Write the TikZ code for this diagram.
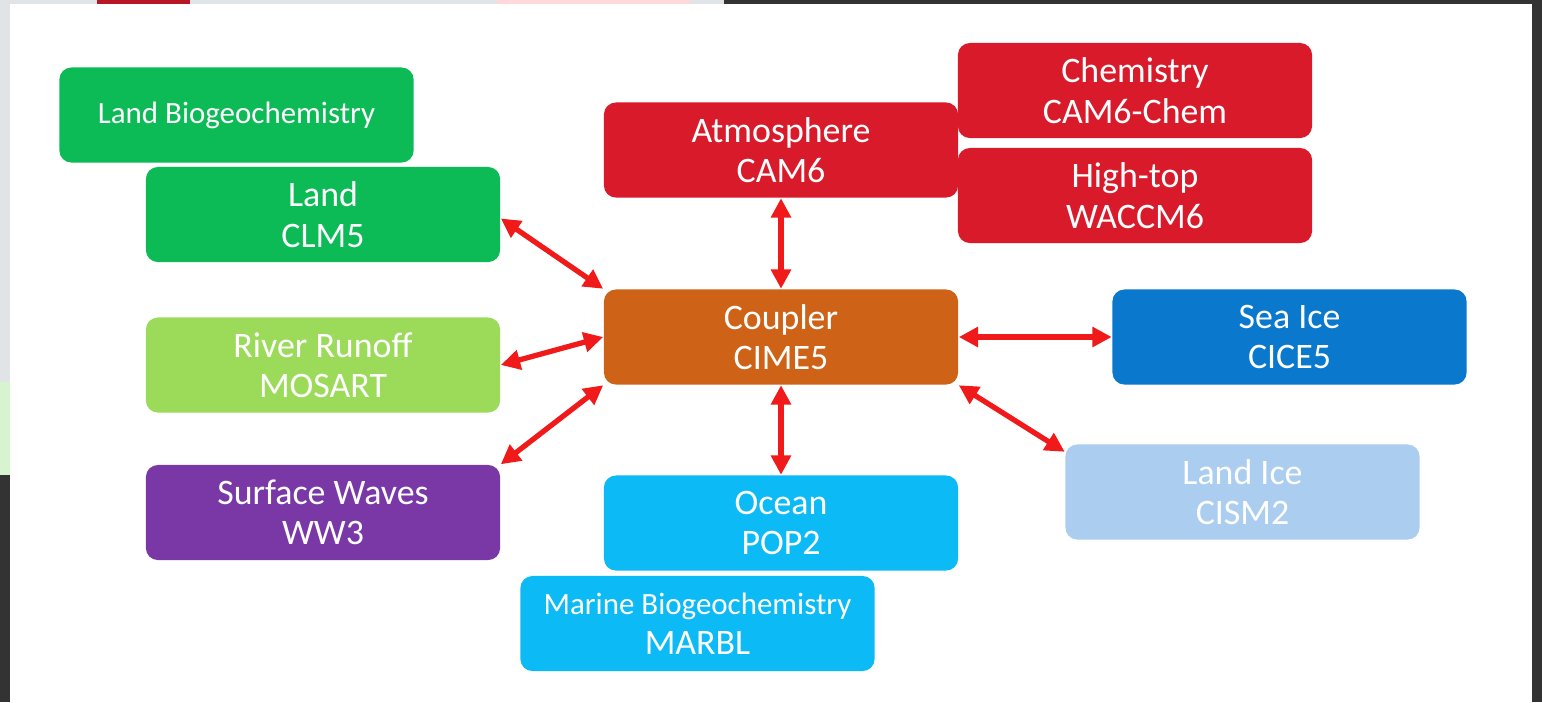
\documentclass[tikz,border=0pt]{standalone}
\usepackage{fontspec}
\setmainfont{Carlito}
\usetikzlibrary{positioning,arrows.meta}

\definecolor{framegray}{RGB}{51,51,51}
\definecolor{stripgray}{RGB}{225,228,231}
\definecolor{stripgreen}{RGB}{214,244,208}
\definecolor{landgreen}{RGB}{12,186,86}
\definecolor{rivergreen}{RGB}{156,218,90}
\definecolor{wavepurple}{RGB}{122,56,166}
\definecolor{atmred}{RGB}{217,26,42}
\definecolor{cplorange}{RGB}{206,99,24}
\definecolor{iceblue}{RGB}{10,120,204}
\definecolor{landiceblue}{RGB}{170,205,240}
\definecolor{oceancyan}{RGB}{12,187,245}
\definecolor{arrowred}{RGB}{240,26,26}

\begin{document}
\begin{tikzpicture}[x=0.01cm, y=-0.01cm, font=\fontsize{10.2}{11.5}\selectfont]
    \tikzset{
      comp/.style = {rectangle, rounded corners=0.12cm, minimum width=3.54cm, minimum height=0.95cm, align=center, text=white, inner sep=0pt},
      small/.style = {font=\fontsize{8.8}{11.5}\selectfont},
      arrow/.style = {line width=1.5pt, draw=arrowred, {Triangle[length=5.5pt,width=5.5pt]}-{Triangle[length=5.5pt,width=5.5pt]}}
    }
    \useasboundingbox (0,0) rectangle (1542,702);
    % screenshot edges
    \fill[framegray] (0,0) rectangle (1542,702);
    \fill[stripgray] (0,0) rectangle (724,475);
    \fill[stripgreen] (0,382) rectangle (10,475);
    \fill[atmred!85!black] (97,0) rectangle (190,4);
    \fill[red!15] (497,0) rectangle (690,4);
    \fill[white] (10,4) rectangle (1532,702);

    \node (landbgc) [comp, small, fill=landgreen] at (236.5,115) {Land Biogeochemistry};
    \node (land) [comp, fill=landgreen] at (323,214.5) {Land\\CLM5};
    \node (river) [comp, fill=rivergreen] at (323,365) {River Runoff\\MOSART};
    \node (waves) [comp, fill=wavepurple] at (323,512.5) {Surface Waves\\WW3};
    \node (atm) [comp, fill=atmred] at (781,150) {Atmosphere\\CAM6};
    \node (chem) [comp, fill=atmred] at (1135,90.5) {Chemistry\\CAM6-Chem};
    \node (hightop) [comp, fill=atmred] at (1135,195.5) {High-top\\WACCM6};
    \node (coupler) [comp, fill=cplorange] at (781,337) {Coupler\\CIME5};
    \node (seaice) [comp, fill=iceblue] at (1289.5,337) {Sea Ice\\CICE5};
    \node (landice) [comp, fill=landiceblue] at (1242.5,492) {Land Ice\\CISM2};
    \node (ocean) [comp, fill=oceancyan] at (781,523) {Ocean\\POP2};
    \node (marbl) [comp, fill=oceancyan] at (697.5,623.5) {{\fontsize{8.8}{11.5}\selectfont Marine Biogeochemistry}\\MARBL};

    \draw [arrow] ([yshift=-0.04cm]land.east) -- (coupler.north west);
    \draw [arrow] (river.east) -- (coupler.west);
    \draw [arrow] (waves.north east) -- (coupler.south west);
    \draw [arrow] (atm.south) -- (coupler.north);
    \draw [arrow] (coupler.south) -- (ocean.north);
    \draw [arrow] (coupler.east) -- (seaice.west);
    \draw [arrow] (coupler.south east) -- ([yshift=-0.08cm]landice.north west);
\end{tikzpicture}
\end{document}
